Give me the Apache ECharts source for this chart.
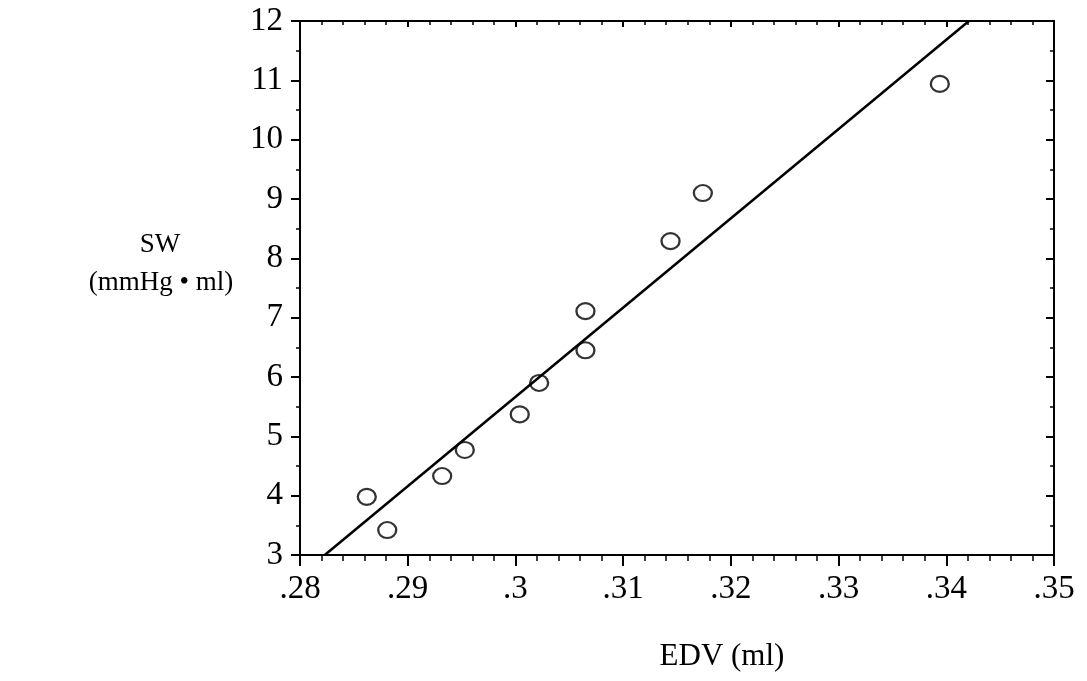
<!DOCTYPE html>
<html>
<head>
<meta charset="utf-8">
<script src="https://cdn.jsdelivr.net/npm/echarts@6/dist/echarts.min.js"></script>
<style>
html,body{margin:0;padding:0;background:#fff;}
#chart{width:1087px;height:681px;}
</style>
</head>
<body>
<div id="chart"></div>
<script>
// Data
var edv = [0.2862, 0.2881, 0.2932, 0.2953, 0.3004, 0.3022, 0.3065, 0.3065, 0.3144, 0.3174, 0.3394];
var sw  = [3.98,   3.42,   4.33,   4.77,   5.37,   5.90,   6.45,   7.11,   8.29,   9.10,   10.94];
var fitLineX = [0.2823, 0.3421];
var fitLineY = [3, 12];
var xTicks = [0.28, 0.29, 0.30, 0.31, 0.32, 0.33, 0.34, 0.35];
var yTicks = [3, 4, 5, 6, 7, 8, 9, 10, 11, 12];

var points = edv.map(function (x, i) { return [x, sw[i]]; });
var line = fitLineX.map(function (x, i) { return [x, fitLineY[i]]; });

var font = '"Liberation Serif", "Times New Roman", serif';
function fmtX(v) {
  return String(parseFloat(v.toFixed(2))).replace(/^0/, '');
}
var axisLine = { show: true, onZero: false, lineStyle: { color: '#000', width: 2 } };

var chart = echarts.init(document.getElementById('chart'), null, { renderer: 'canvas' });
chart.setOption({
  backgroundColor: '#fff',
  animation: false,
  grid: { left: 300, right: 33, top: 21, bottom: 126, containLabel: false },
  xAxis: [{
    type: 'value', position: 'bottom',
    min: xTicks[0], max: xTicks[xTicks.length - 1], interval: 0.01,
    axisLine: axisLine,
    axisTick: { show: true, length: 11, lineStyle: { color: '#000', width: 2 } },
    minorTick: { show: true, splitNumber: 5, length: 6, lineStyle: { color: '#000', width: 1.5 } },
    splitLine: { show: false },
    axisLabel: { color: '#000', fontFamily: font, fontSize: 33, margin: 18, formatter: fmtX }
  }, {
    type: 'value', position: 'top',
    min: xTicks[0], max: xTicks[xTicks.length - 1], interval: 0.01,
    axisLine: axisLine,
    axisTick: { show: true, inside: true, length: 6, lineStyle: { color: '#000', width: 2 } },
    minorTick: { show: true, splitNumber: 5, length: 4, lineStyle: { color: '#000', width: 1.5 } },
    splitLine: { show: false },
    axisLabel: { show: false }
  }],
  yAxis: [{
    type: 'value', position: 'left',
    min: yTicks[0], max: yTicks[yTicks.length - 1], interval: 1,
    axisLine: axisLine,
    axisTick: { show: true, length: 9, lineStyle: { color: '#000', width: 2 } },
    minorTick: { show: true, splitNumber: 2, length: 4, lineStyle: { color: '#000', width: 1.5 } },
    splitLine: { show: false },
    axisLabel: { color: '#000', fontFamily: font, fontSize: 33, margin: 17 }
  }, {
    type: 'value', position: 'right',
    min: yTicks[0], max: yTicks[yTicks.length - 1], interval: 1,
    axisLine: axisLine,
    axisTick: { show: true, inside: true, length: 8, lineStyle: { color: '#000', width: 2 } },
    minorTick: { show: true, splitNumber: 2, length: 4, lineStyle: { color: '#000', width: 1.5 } },
    splitLine: { show: false },
    axisLabel: { show: false }
  }],
  graphic: [
    { type: 'text', x: 160, y: 245, style: { text: 'SW', font: '27px "Liberation Serif", serif', fill: '#000', align: 'center', verticalAlign: 'middle', textAlign: 'center', textVerticalAlign: 'middle' } },
    { type: 'text', x: 161, y: 283, style: { text: '(mmHg \u2022 ml)', font: '27px "Liberation Serif", serif', fill: '#000', align: 'center', verticalAlign: 'middle', textAlign: 'center', textVerticalAlign: 'middle' } },
    { type: 'text', x: 722, y: 657, style: { text: 'EDV (ml)', font: '31px "Liberation Serif", serif', fill: '#000', align: 'center', verticalAlign: 'middle', textAlign: 'center', textVerticalAlign: 'middle' } }
  ],
  series: [{
    type: 'line', data: line, xAxisIndex: 0, yAxisIndex: 0,
    symbol: 'none', lineStyle: { color: '#000', width: 2.5 }, silent: true
  }, {
    type: 'scatter', data: points, xAxisIndex: 0, yAxisIndex: 0,
    symbol: 'circle', symbolSize: [18, 16],
    itemStyle: { color: '#fff', borderColor: '#000', borderWidth: 2.2 }
  }]
});
</script>
</body>
</html>
